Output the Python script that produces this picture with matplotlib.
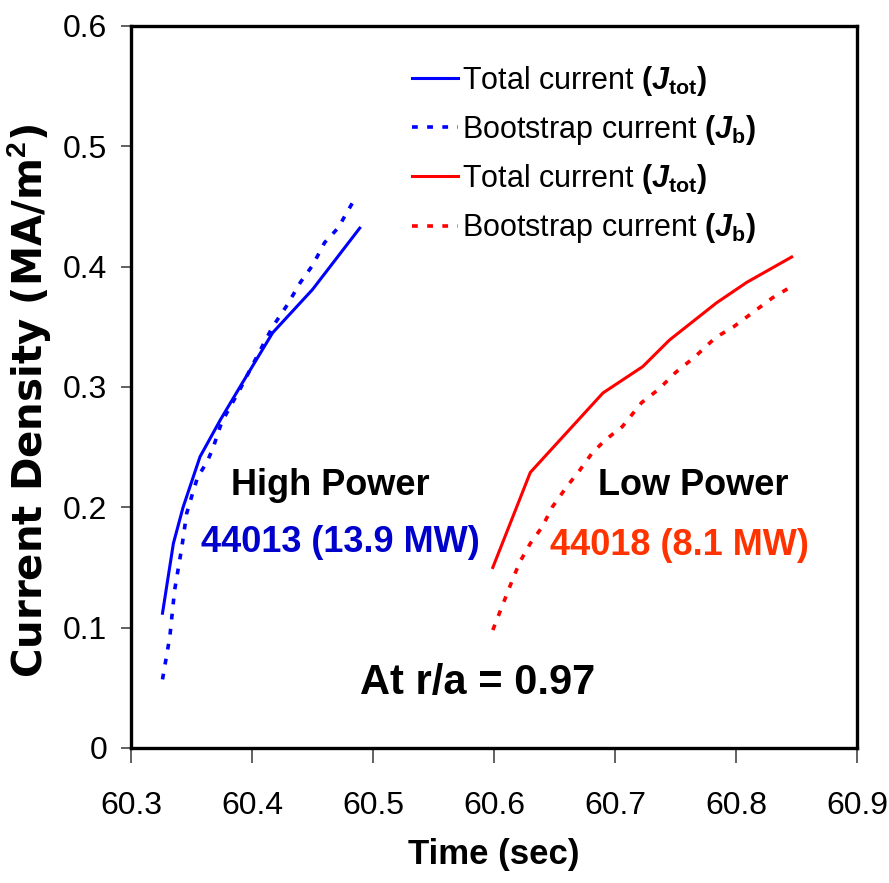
import matplotlib
matplotlib.use("Agg")
import matplotlib.pyplot as plt

# time (s) and current density (MA/m^2)
t_high_tot = [60.326, 60.335, 60.343, 60.357, 60.374, 60.390, 60.417, 60.450, 60.489]
j_high_tot = [0.112, 0.170, 0.200, 0.242, 0.273, 0.300, 0.345, 0.381, 0.432]

t_high_bs = [60.326, 60.332, 60.336, 60.342, 60.346, 60.351, 60.355, 60.363, 60.368, 60.375,
             60.390, 60.407, 60.417, 60.429, 60.440, 60.450, 60.460, 60.471, 60.483]
j_high_bs = [0.057, 0.092, 0.131, 0.167, 0.195, 0.212, 0.225, 0.238, 0.250, 0.271,
             0.298, 0.331, 0.350, 0.368, 0.387, 0.401, 0.420, 0.432, 0.453]

t_low_tot = [60.599, 60.630, 60.690, 60.723, 60.745, 60.784, 60.809, 60.846]
j_low_tot = [0.150, 0.229, 0.295, 0.317, 0.339, 0.370, 0.387, 0.408]

t_low_bs = [60.599, 60.613, 60.621, 60.630, 60.640, 60.648, 60.660, 60.671, 60.681, 60.692,
            60.706, 60.722, 60.736, 60.750, 60.766, 60.783, 60.798, 60.814, 60.830, 60.845]
j_low_bs = [0.098, 0.134, 0.154, 0.170, 0.184, 0.200, 0.217, 0.231, 0.245, 0.256,
            0.267, 0.287, 0.298, 0.312, 0.325, 0.341, 0.350, 0.362, 0.374, 0.383]

x_ticks = [60.3, 60.4, 60.5, 60.6, 60.7, 60.8, 60.9]
y_ticks = [0, 0.1, 0.2, 0.3, 0.4, 0.5, 0.6]
y_tick_labels = ["0", "0.1", "0.2", "0.3", "0.4", "0.5", "0.6"]

plt.rcParams["font.family"] = ["Liberation Sans", "DejaVu Sans"]
plt.rcParams["mathtext.fontset"] = "custom"
plt.rcParams["mathtext.rm"] = "Liberation Sans:bold"
plt.rcParams["mathtext.bf"] = "Liberation Sans:bold"
plt.rcParams["mathtext.it"] = "Liberation Sans:bold:italic"

blue = "#0000ff"
red = "#ff0000"
dots = (0, (1.6, 2.6))

fig = plt.figure(figsize=(8.89, 8.83), dpi=100)
ax = fig.add_axes([0.1474, 0.1529, 0.8166, 0.8177])

ax.plot(t_high_tot, j_high_tot, color=blue, lw=2.2, label=r"Total current $\mathrm{(}J_{\mathrm{tot}}\mathrm{)}$")
ax.plot(t_high_bs, j_high_bs, color=blue, lw=2.6, ls=dots, label=r"Bootstrap current $\mathrm{(}J_{\mathrm{b}}\mathrm{)}$")
ax.plot(t_low_tot, j_low_tot, color=red, lw=2.2, label=r"Total current $\mathrm{(}J_{\mathrm{tot}}\mathrm{)}$")
ax.plot(t_low_bs, j_low_bs, color=red, lw=2.6, ls=dots, label=r"Bootstrap current $\mathrm{(}J_{\mathrm{b}}\mathrm{)}$")

ax.set_xlim(60.3, 60.9)
ax.set_ylim(0, 0.6)
ax.set_xticks(x_ticks)
ax.set_xticklabels([f"{v:.1f}" for v in x_ticks], fontsize=23)
ax.set_yticks(y_ticks)
ax.set_yticklabels(y_tick_labels, fontsize=23)
ax.tick_params(axis="x", direction="out", length=11, width=1.3, color="#555555", pad=20)
ax.tick_params(axis="y", direction="out", length=7, width=1.3, color="#555555", pad=10)
for s in ax.spines.values():
    s.set_linewidth(2.4)
    s.set_color("black")

ax.set_xlabel("Time (sec)", fontsize=25, fontweight="bold")
ax.xaxis.set_label_coords(0.0 + (494 - 131) / 726, -0.124)
ax.xaxis.label.set_va("top")
ax.set_ylabel(r"Current Density (MA/m$^{\mathrm{2}}$)", family="DejaVu Sans", fontsize=29, fontweight="bold")
ax.yaxis.set_label_coords(-0.108, 0.48)

ax.legend(loc="upper left", bbox_to_anchor=(0.387, 0.948), frameon=False, fontsize=22,
          handlelength=1.5, handletextpad=0.13, labelspacing=0.5, borderpad=0, borderaxespad=0)

ax.text(0.275, 0.364, "High Power", transform=ax.transAxes, ha="center", va="center",
        fontsize=26, fontweight="bold", color="black")
ax.text(0.288, 0.284, "44013 (13.9 MW)", transform=ax.transAxes, ha="center", va="center",
        fontsize=26, fontweight="bold", color="#0000cc")
ax.text(0.774, 0.364, "Low Power", transform=ax.transAxes, ha="center", va="center",
        fontsize=26, fontweight="bold", color="black")
ax.text(0.755, 0.281, "44018 (8.1 MW)", transform=ax.transAxes, ha="center", va="center",
        fontsize=26, fontweight="bold", color="#ff3300")
ax.text(0.478, 0.090, "At r/a = 0.97", transform=ax.transAxes, ha="center", va="center",
        fontsize=30, fontweight="bold", color="black")

fig.savefig("out.png", dpi=100, facecolor="white")
